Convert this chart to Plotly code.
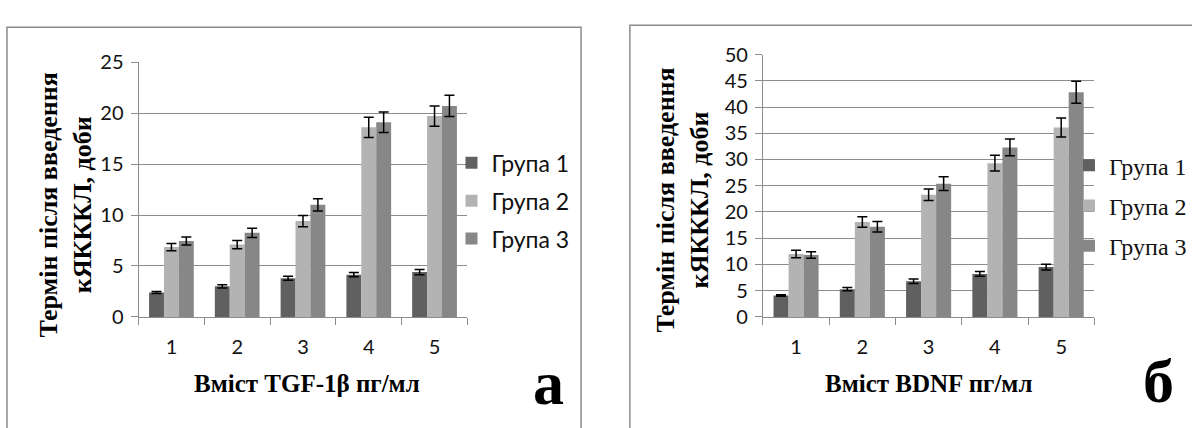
import plotly.graph_objects as go

W, H = 1192, 428

categories = ["1", "2", "3", "4", "5"]
group_names = ["Група 1", "Група 2", "Група 3"]

# Panel a: TGF-1β
a_g1 = [2.4, 3.0, 3.8, 4.15, 4.4]
a_g2 = [6.85, 7.1, 9.4, 18.6, 19.7]
a_g3 = [7.45, 8.25, 11.0, 19.1, 20.7]
a_g1_err = [0.1, 0.15, 0.2, 0.2, 0.25]
a_g2_err = [0.35, 0.4, 0.55, 1.0, 1.0]
a_g3_err = [0.4, 0.45, 0.6, 1.0, 1.05]

# Panel б: BDNF
b_g1 = [4.1, 5.3, 6.8, 8.2, 9.5]
b_g2 = [12.0, 18.1, 23.3, 29.3, 36.1]
b_g3 = [11.8, 17.2, 25.4, 32.3, 42.8]
b_g1_err = [0.15, 0.3, 0.45, 0.45, 0.55]
b_g2_err = [0.7, 1.0, 1.1, 1.5, 1.8]
b_g3_err = [0.6, 1.0, 1.3, 1.6, 2.1]

a_ticks = [0, 5, 10, 15, 20, 25]
b_ticks = [0, 5, 10, 15, 20, 25, 30, 35, 40, 45, 50]

colors = ["#606060", "#b3b3b3", "#878787"]
grid = "#8c8c8c"


def X(px):
    return px / W


def Y(py):
    return 1 - py / H


fig = go.Figure()

a_vals = [a_g1, a_g2, a_g3]
a_errs = [a_g1_err, a_g2_err, a_g3_err]
b_vals = [b_g1, b_g2, b_g3]
b_errs = [b_g1_err, b_g2_err, b_g3_err]

for i in range(3):
    fig.add_trace(go.Bar(
        x=categories, y=a_vals[i], name=group_names[i],
        marker=dict(color=colors[i], line=dict(width=0)),
        error_y=dict(type="data", array=a_errs[i], color="black", thickness=1.5, width=5),
        xaxis="x", yaxis="y", legend="legend", legendgroup="a%d" % i,
    ))
for i in range(3):
    fig.add_trace(go.Bar(
        x=categories, y=b_vals[i], name=group_names[i],
        marker=dict(color=colors[i], line=dict(width=0)),
        error_y=dict(type="data", array=b_errs[i], color="black", thickness=1.5, width=5),
        xaxis="x2", yaxis="y2", legend="legend2", legendgroup="b%d" % i,
    ))

tickfont = dict(family="Lato", size=20, color="#111111")

axis_common = dict(
    showline=True, linecolor=grid, linewidth=1,
    ticks="outside", ticklen=7, tickcolor=grid, tickwidth=1,
    tickfont=tickfont, fixedrange=True,
)

fig.update_layout(
    width=W, height=H,
    margin=dict(l=0, r=0, t=0, b=0),
    paper_bgcolor="white", plot_bgcolor="white",
    barmode="group", bargap=0.32, bargroupgap=0,
    xaxis=dict(domain=[X(139), X(469)], anchor="y", type="category",
               tickson="boundaries", showgrid=False, ticklabelstandoff=12,
               **axis_common),
    yaxis=dict(domain=[Y(322), Y(52)], anchor="x", range=[0, 25],
               tickvals=a_ticks, showgrid=True, gridcolor=grid, gridwidth=1,
               zeroline=False, ticklabelstandoff=3, **axis_common),
    xaxis2=dict(domain=[X(765.5), X(1098)], anchor="y2", type="category",
                tickson="boundaries", showgrid=False, ticklabelstandoff=12,
                **axis_common),
    yaxis2=dict(domain=[Y(322), Y(44)], anchor="x2", range=[0, 50],
                tickvals=b_ticks, showgrid=True, gridcolor=grid, gridwidth=1,
                zeroline=False, ticklabelstandoff=3, **axis_common),
    legend=dict(x=X(453), y=Y(136), xanchor="left", yanchor="top",
                font=dict(family="Lato", size=23, color="#111111"),
                bgcolor="rgba(0,0,0,0)", tracegroupgap=5, itemclick=False,
                itemdoubleclick=False),
    legend2=dict(x=X(1073), y=Y(138), xanchor="left", yanchor="top",
                 font=dict(family="Liberation Serif", size=24, color="#111111"),
                 bgcolor="rgba(0,0,0,0)", tracegroupgap=6, itemclick=False,
                 itemdoubleclick=False),
    showlegend=True,
)

title_font = dict(family="Liberation Serif", size=26, color="black", weight="bold")
xt_font = dict(family="Liberation Serif", size=25, color="black", weight="bold")
big_font = dict(family="Liberation Serif", size=62, color="black", weight="bold")

ytitle = "Термін після введення<br>кЯКККЛ, доби"

annotations = [
    dict(text=ytitle, x=X(66), y=Y(203), textangle=-90, font=title_font),
    dict(text=ytitle, x=X(685), y=Y(198), textangle=-90, font=title_font),
    dict(text="Вміст TGF-1β пг/мл", x=X(308), y=Y(392), font=xt_font),
    dict(text="Вміст BDNF пг/мл", x=X(932), y=Y(392), font=xt_font),
    dict(text="а", x=X(550), y=Y(392), font=big_font),
    dict(text="б", x=X(1162), y=Y(390), font=big_font),
]
for a in annotations:
    a.update(xref="paper", yref="paper", xanchor="center", yanchor="middle",
             showarrow=False)
fig.update_layout(annotations=annotations)

fig.update_layout(shapes=[
    dict(type="rect", xref="paper", yref="paper", x0=X(7), x1=X(583),
         y0=Y(445), y1=Y(15), line=dict(color=grid, width=1.5), layer="below"),
    dict(type="rect", xref="paper", yref="paper", x0=X(632), x1=X(1205),
         y0=Y(445), y1=Y(13), line=dict(color=grid, width=1.5), layer="below"),
])

fig.write_html(
    "out.html",
    config={"displayModeBar": False},
    post_script="document.body.style.margin='0';document.body.style.overflow='hidden';",
)
